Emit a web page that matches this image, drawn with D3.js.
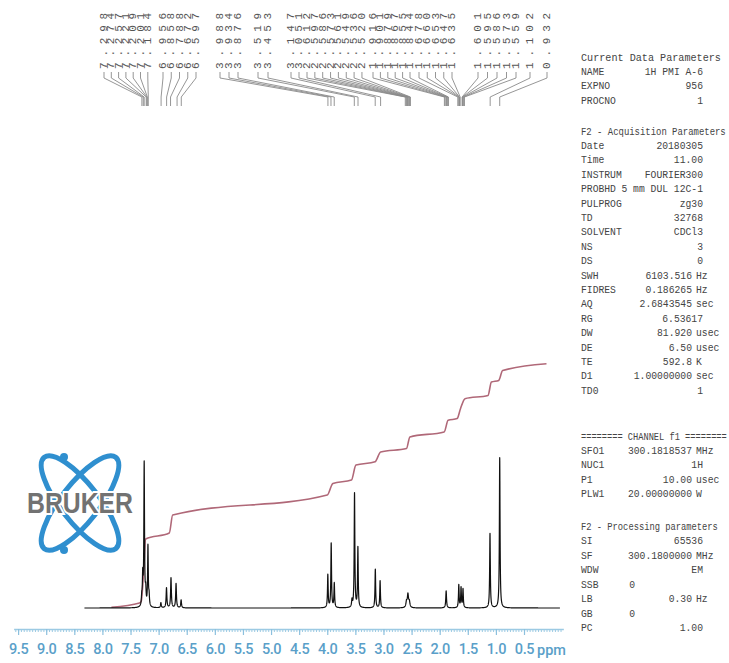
<!DOCTYPE html>
<meta charset="utf-8" />
<script src="https://d3js.org/d3.v7.min.js"></script>
<style>
  body { margin: 0; background: #fff; }
</style>
<svg id="nmr" width="729" height="663"></svg>

<script>
  // peak-picking labels (ppm), in the groups printed along the top
  var labelGroups = [
    [7.298, 7.274, 7.257, 7.221, 7.209, 7.201, 7.184],
    [6.956, 6.858, 6.788, 6.672, 6.597],
    [3.988, 3.934, 3.876],
    [3.519, 3.453],
    [3.147, 3.051],
    [2.612, 2.597, 2.586, 2.573, 2.561, 2.549, 2.536, 2.520],
    [1.916, 1.901, 1.879, 1.867, 1.855, 1.844],
    [1.678, 1.660, 1.653, 1.647, 1.635],
    [1.601, 1.595, 1.586, 1.573, 1.559],
    [1.102],
    [0.932]
  ];

  // spectrum lines: [ppm, relative height, half width (ppm)]
  var peaks = [
    [7.300, 0.06, 0.008], [7.283, 0.20, 0.007], [7.257, 1.00, 0.007],
    [7.230, 0.10, 0.008], [7.190, 0.42, 0.007], [7.170, 0.07, 0.008],
    [6.960, 0.035, 0.008], [6.860, 0.14, 0.008], [6.780, 0.21, 0.008],
    [6.690, 0.17, 0.008], [6.600, 0.055, 0.008],
    [3.990, 0.23, 0.007], [3.930, 0.45, 0.007], [3.875, 0.17, 0.007],
    [3.560, 0.05, 0.008], [3.515, 0.80, 0.007], [3.455, 0.42, 0.007],
    [3.145, 0.27, 0.007], [3.060, 0.19, 0.007],
    [2.590, 0.04, 0.012], [2.565, 0.09, 0.012], [2.540, 0.04, 0.012],
    [1.885, 0.12, 0.008],
    [1.660, 0.16, 0.007], [1.620, 0.14, 0.007], [1.585, 0.13, 0.007],
    [1.105, 0.52, 0.007],
    [0.932, 1.05, 0.007]
  ];

  // integral trace: [ppm, level]
  var integral = [
    [7.84, 0.7], [7.34, 5], [7.31, 6.6], [7.27, 33], [7.23, 69],
    [6.81, 75], [6.75, 93], [4.00, 113], [3.90, 124.6],
    [3.57, 127.9], [3.49, 142.9], [3.15, 146.2], [3.05, 156.1],
    [2.59, 159.5], [2.53, 171.1], [1.92, 176.1], [1.85, 187.7],
    [1.69, 189.4], [1.63, 199.3], [1.55, 209.3], [1.14, 212.6],
    [1.08, 225.9], [0.95, 227.6], [0.88, 237.5], [0.10, 244.2]
  ];

  var tickLabels = ["9.5", "9.0", "8.5", "8.0", "7.5", "7.0", "6.5", "6.0", "5.5",
    "5.0", "4.5", "4.0", "3.5", "3.0", "2.5", "2.0", "1.5", "1.0", "0.5"];

  // parameter listing on the right
  var currentData = [["NAME", "1H PMI A-6"], ["EXPNO", "956"], ["PROCNO", "1"]];
  var acquisition = [
    ["Date", "20180305"], ["Time", "11.00"], ["INSTRUM", "FOURIER300"],
    ["PROBHD", "5 mm DUL 12C-1"], ["PULPROG", "zg30"], ["TD", "32768"],
    ["SOLVENT", "CDCl3"], ["NS", "3"], ["DS", "0"],
    ["SWH", "6103.516", "Hz"], ["FIDRES", "0.186265", "Hz"],
    ["AQ", "2.6843545", "sec"], ["RG", "6.53617"], ["DW", "81.920", "usec"],
    ["DE", "6.50", "usec"], ["TE", "592.8", "K"], ["D1", "1.00000000", "sec"],
    ["TD0", "1"]
  ];
  var channel = [["SFO1", "300.1818537", "MHz"], ["NUC1", "1H"],
    ["P1", "10.00", "usec"], ["PLW1", "20.00000000", "W"]];
  var processing = [["SI", "65536"], ["SF", "300.1800000", "MHz"], ["WDW", "EM"],
    ["SSB", "0"], ["LB", "0.30", "Hz"], ["GB", "0"], ["PC", "1.00"]];

  // layout of the label columns: [first x, step]
  var labelSlots = [[104, 7.3], [163, 8.25], [220, 9], [258, 10], [291, 8],
    [307, 7.85], [373, 7.4], [419, 8.25], [478, 9.5], [530, 0], [547, 0]];

  var svg = d3.select("#nmr");

  var x = d3.scaleLinear().domain([9.5, 0.5]).range([18.1, 524]);
  var y = d3.scaleLinear().domain([0, 1]).range([608, 465]);
  var yInt = d3.scaleLinear().domain([0, 250]).range([608, 358]);

  // ---- Bruker logo
  var logo = svg.append("g").attr("transform", "translate(80,503)");
  [52, -52].forEach(function(a) {
    logo.append("ellipse")
      .attr("rx", 58).attr("ry", 19)
      .attr("transform", "rotate(" + a + ")")
      .attr("fill", "none")
      .attr("stroke", "#2f8fcf")
      .attr("stroke-width", 5);
  });
  [[-16, -46], [-16, 47]].forEach(function(p) {
    logo.append("circle").attr("cx", p[0]).attr("cy", p[1]).attr("r", 4)
      .attr("fill", "#2f8fcf");
  });
  logo.append("text")
    .attr("x", 0).attr("y", 10)
    .attr("text-anchor", "middle")
    .attr("textLength", 106)
    .attr("lengthAdjust", "spacingAndGlyphs")
    .style("font", "bold 29px 'Liberation Sans', Arial, sans-serif")
    .attr("fill", "#727272")
    .attr("stroke", "#fff")
    .attr("stroke-width", 4)
    .attr("paint-order", "stroke")
    .text("BRUKER");

  // ---- peak labels with leader lines
  var labels = [];
  labelGroups.forEach(function(g, gi) {
    g.forEach(function(v, i) {
      labels.push({ ppm: v, lx: labelSlots[gi][0] + i * labelSlots[gi][1] });
    });
  });

  svg.append("g")
    .selectAll("path")
    .data(labels)
    .enter()
    .append("path")
    .attr("d", function(d) {
      return "M" + d.lx + ",72L" + d.lx + ",78L" + x(d.ppm) + ",97L" + x(d.ppm) + ",106";
    })
    .attr("fill", "none")
    .attr("stroke", "#8a8a8a")
    .attr("stroke-width", 0.9);

  svg.append("g")
    .selectAll("text")
    .data(labels)
    .enter()
    .append("text")
    .attr("transform", function(d) { return "translate(" + d.lx + ",69) rotate(-90)"; })
    .attr("dominant-baseline", "central")
    .style("font", "11px 'Liberation Mono', monospace")
    .style("letter-spacing", "5.8px")
    .attr("fill", "#555")
    .text(function(d) { return d.ppm.toFixed(3); });

  // ---- integral
  svg.append("path")
    .datum(integral)
    .attr("fill", "none")
    .attr("stroke", "#b06878")
    .attr("stroke-width", 1.6)
    .attr("d", d3.line()
      .x(function(d) { return x(d[0]); })
      .y(function(d) { return yInt(d[1]); })
      .curve(d3.curveMonotoneX));

  // ---- spectrum
  function intensity(p) {
    var s = 0;
    peaks.forEach(function(k) {
      var u = (p - k[0]) / k[2];
      s += k[1] / (1 + u * u);
    });
    return s;
  }
  var grid = d3.range(8.32, -0.14, -0.001).concat(peaks.map(function(k) { return k[0]; }));
  grid.sort(function(a, b) { return b - a; });

  svg.append("path")
    .datum(grid)
    .attr("fill", "none")
    .attr("stroke", "#111")
    .attr("stroke-width", 1.2)
    .attr("stroke-linejoin", "round")
    .attr("d", d3.line()
      .x(function(p) { return x(p); })
      .y(function(p) { return y(intensity(p)); }));

  // ---- ppm axis
  var axisScale = d3.scaleLinear().domain([9.58, -0.2]).range([x(9.58), x(-0.2)]);
  var axisY = 629;

  var minor = svg.append("g")
    .attr("transform", "translate(0," + axisY + ")")
    .call(d3.axisBottom(axisScale)
      .tickValues(d3.range(9.55, -0.2, -0.05))
      .tickSize(3)
      .tickSizeOuter(0)
      .tickFormat(""));
  minor.selectAll("line").attr("stroke", "#9ccae3");
  minor.select(".domain").attr("stroke", "#9ccae3").attr("stroke-width", 1.6);

  var major = svg.append("g")
    .attr("transform", "translate(0," + axisY + ")")
    .call(d3.axisBottom(axisScale)
      .tickValues(tickLabels.map(Number))
      .tickFormat(function(d, i) { return tickLabels[i]; })
      .tickSize(6)
      .tickSizeOuter(0)
      .tickPadding(9));
  major.select(".domain").remove();
  major.selectAll("line").attr("stroke", "#8cc0de").attr("stroke-width", 1.2);
  major.selectAll("text")
    .attr("fill", "#5a9fc9")
    .style("font", "500 14.5px Roboto, sans-serif")
    .style("letter-spacing", "-0.4px");

  svg.append("text")
    .attr("x", 537).attr("y", 655)
    .attr("fill", "#5a9fc9")
    .style("font", "500 14.5px Roboto, sans-serif")
    .text("ppm");

  // ---- parameter listing
  var fs = 10.8, sx = 0.9, sy = 1.08;
  var panel = svg.append("g")
    .style("font", fs + "px 'Liberation Mono', monospace")
    .attr("fill", "#444");

  function put(tx, ty, txt, anchor, scx) {
    panel.append("text")
      .attr("transform", "translate(" + tx + "," + ty + ") scale(" + (scx || sx) + "," + sy + ")")
      .attr("text-anchor", anchor || "start")
      .style("white-space", "pre")
      .text(txt);
  }
  function header(txt, yy, len) {
    put(581, yy + 3.5, txt, "start", len / (txt.length * 0.6 * fs));
  }
  function rows(list, y0, step) {
    list.forEach(function(r, i) {
      var yy = y0 + (i + 1) * step + 3.5;
      var short = r[0] === "SSB" || r[0] === "GB";
      put(581, yy, r[0]);
      put(short ? 635 : (r[2] ? 692 : 703), yy, r[1], "end");
      if (r[2]) put(696, yy, r[2]);
    });
  }

  header("Current Data Parameters", 57, 140);
  rows(currentData, 57, 14.4);
  header("F2 - Acquisition Parameters", 131, 145);
  rows(acquisition, 131, 14.4);
  header("======== CHANNEL f1 ========", 436, 146);
  rows(channel, 436, 14.4);
  header("F2 - Processing parameters", 526, 137);
  rows(processing, 526, 14.5);
</script>
